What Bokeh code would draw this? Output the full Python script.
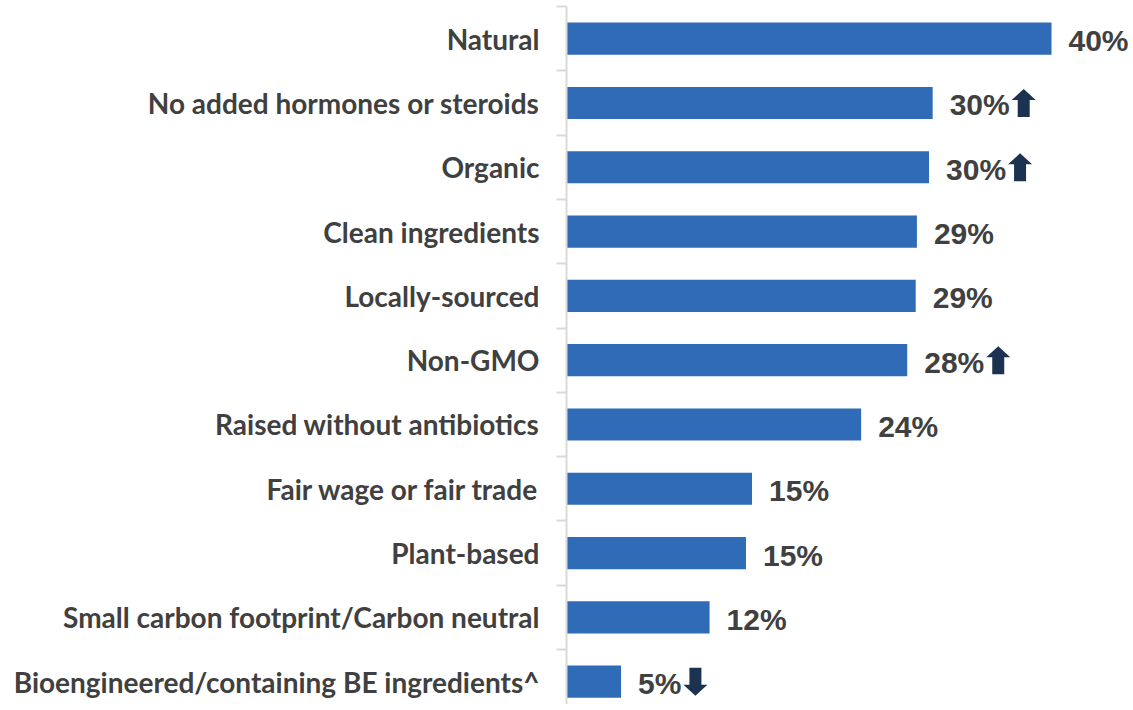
from bokeh.plotting import figure
from bokeh.models import Range1d, FixedTicker, ColumnDataSource
from bokeh.core.properties import value
from bokeh.embed import file_html
from bokeh.resources import INLINE

categories = [
    "Natural",
    "No added hormones or steroids",
    "Organic",
    "Clean ingredients",
    "Locally-sourced",
    "Non-GMO",
    "Raised without antibiotics",
    "Fair wage or fair trade",
    "Plant-based",
    "Small carbon footprint/Carbon neutral",
    "Bioengineered/containing BE ingredients^",
]
values = [40.0, 30.2, 29.9, 28.9, 28.8, 28.1, 24.3, 15.3, 14.8, 11.8, 4.5]
labels = ["40%", "30%", "30%", "29%", "29%", "28%", "24%", "15%", "15%", "12%", "5%"]
trends = ["", "up", "up", "", "", "up", "", "", "", "", "down"]

BAR = "#2f6bb6"
TXT = "#404040"
ARROW = "#1b3350"
AXIS = "#d9d9d9"

PX_PER_UNIT = 12.125
FRAME_W = 566
TOP = 6
FRAME_H = 704 - TOP
ROW_PX = 64.3
x_end = FRAME_W / PX_PER_UNIT
y_top = -0.5
y_bottom = y_top + FRAME_H / ROW_PX

n = len(categories)
ys = list(range(n))

p = figure(
    frame_width=FRAME_W, frame_height=FRAME_H,
    x_range=Range1d(0, x_end), y_range=Range1d(y_bottom, y_top),
    x_axis_location=None, y_axis_location="left",
    output_backend="svg", toolbar_location=None,
    min_border_left=566, min_border_right=0, min_border_top=TOP, min_border_bottom=0,
)
p.outline_line_color = None
p.grid.visible = False
p.background_fill_color = "white"
p.border_fill_color = "white"

ax = p.yaxis[0]
ax.ticker = FixedTicker(ticks=ys, minor_ticks=[i - 0.5 for i in range(n + 1)])
ax.major_label_overrides = {i: c for i, c in enumerate(categories)}
ax.major_tick_line_color = None
ax.major_tick_out = 0
ax.major_tick_in = 0
ax.minor_tick_line_color = AXIS
ax.minor_tick_line_width = 2
ax.minor_tick_out = 10
ax.minor_tick_in = 0
ax.axis_line_color = AXIS
ax.axis_line_width = 2
ax.major_label_standoff = 17
ax.major_label_text_font = "Lato"
ax.major_label_text_font_size = "28px"
ax.major_label_text_color = TXT
ax.major_label_text_font_style = "bold"

src = ColumnDataSource(dict(y=ys, v=values, lab=labels))
p.hbar(y="y", right="v", left=0, height=0.5, source=src, fill_color=BAR, line_color=None)
p.text(x="v", y="y", text="lab", source=src, x_offset=17, y_offset=2,
       text_baseline="middle", text_align="left",
       text_font=value("Liberation Sans"), text_font_size="30px", text_color=TXT,
       text_font_style="bold")

# trend arrows, placed just after the value label (pixel offsets converted to data units)
xs_p, ys_p = [], []
for v, lab, t, y in zip(values, labels, trends, ys):
    if not t:
        continue
    text_w = 0.556 * 30 * (len(lab) - 1) + 0.889 * 30
    left = v + (17 + text_w + 2) / PX_PER_UNIT
    w = 24 / PX_PER_UNIT
    sw = 12 / PX_PER_UNIT
    hh = 28 / ROW_PX
    head = 11 / ROW_PX
    cx = left + w / 2
    if t == "up":
        tip, base = y - hh / 2, y + hh / 2
        neck = tip + head
    else:
        tip, base = y + hh / 2, y - hh / 2
        neck = tip - head
    xs_p.append([cx, left + w, cx + sw / 2, cx + sw / 2, cx - sw / 2, cx - sw / 2, left])
    ys_p.append([tip, neck, neck, base, base, neck, neck])
p.patches(xs=xs_p, ys=ys_p, fill_color=ARROW, line_color=None)

open("out.html", "w").write(file_html(p, INLINE))
